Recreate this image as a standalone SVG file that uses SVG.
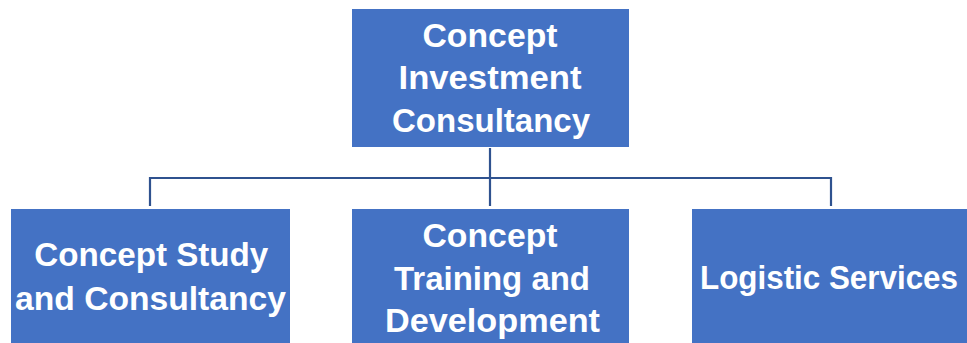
<svg xmlns="http://www.w3.org/2000/svg" width="967" height="343" viewBox="0 0 967 343">
<style>
.box{fill:#4472C4;}
.t{font-family:"Liberation Sans",Arial,sans-serif;font-weight:bold;font-size:34px;fill:#FFFFFF;text-anchor:middle;}
.c{fill:none;stroke:#2F528F;stroke-width:2.2;}
</style>
<rect width="967" height="343" fill="#FFFFFF"/>
<g id="connectors">
<path class="c" d="M490 148 V206"/>
<path class="c" d="M150 206 V178 H831 V206"/>
</g>
<g id="top">
<rect class="box" x="352" y="9" width="277" height="138"/>
<text class="t" x="490" y="46.5" textLength="135" lengthAdjust="spacingAndGlyphs">Concept</text>
<text class="t" x="490" y="89" textLength="183" lengthAdjust="spacingAndGlyphs">Investment</text>
<text class="t" x="491" y="131.5" textLength="198" lengthAdjust="spacingAndGlyphs">Consultancy</text>
</g>
<g id="study">
<rect class="box" x="11" y="209" width="279" height="134"/>
<text class="t" x="151.3" y="266" textLength="234" lengthAdjust="spacingAndGlyphs">Concept Study</text>
<text class="t" x="150.5" y="310" textLength="271" lengthAdjust="spacingAndGlyphs">and Consultancy</text>
</g>
<g id="training">
<rect class="box" x="352" y="209" width="277" height="134"/>
<text class="t" x="490" y="246.5" textLength="135" lengthAdjust="spacingAndGlyphs">Concept</text>
<text class="t" x="492" y="289.5" textLength="196" lengthAdjust="spacingAndGlyphs">Training and</text>
<text class="t" x="492.5" y="331.5" textLength="215" lengthAdjust="spacingAndGlyphs">Development</text>
</g>
<g id="logistic">
<rect class="box" x="692" y="209" width="275" height="134"/>
<text class="t" x="829" y="288.5" textLength="258" lengthAdjust="spacingAndGlyphs">Logistic Services</text>
</g>
</svg>
